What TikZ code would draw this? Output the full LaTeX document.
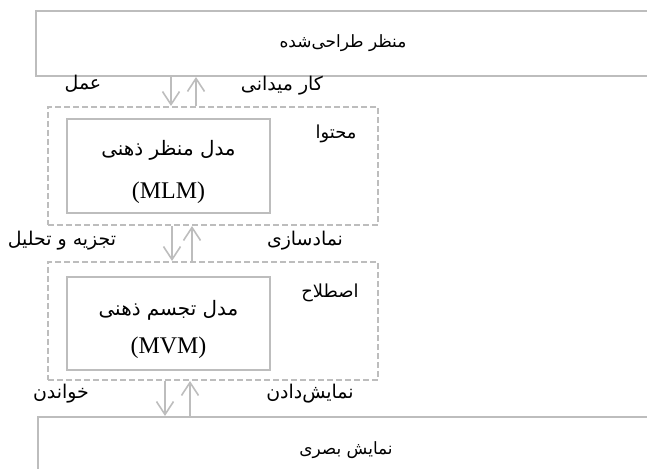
\documentclass[tikz,border=0pt]{standalone}
\usepackage{fontspec}
\setmainfont{Liberation Serif}
\newfontfamily\fa[Script=Arabic]{DejaVu Sans}
\TeXXeTstate=1
\usetikzlibrary{arrows.meta}
\definecolor{edge}{HTML}{BDBDBD}
\tikzset{
  solidbox/.style={draw=edge, line width=2bp, inner sep=0pt, minimum width=#1},
  groupbox/.style={draw=edge, line width=2bp, dash pattern=on 6bp off 3bp, inner sep=0pt},
  flow/.style={draw=edge, line width=1.6bp, -{Straight Barb[length=13bp,width=17bp,line width=1.6bp]}},
  lbl/.style={inner sep=0pt, font=\fa\fontsize{19}{22}\selectfont},
  frametxt/.style={inner sep=0pt, font=\fa\fontsize{17}{20}\selectfont},
  grouptxt/.style={inner sep=0pt, font=\fa\fontsize{18}{21}\selectfont},
  big/.style={inner sep=0pt, font=\fa\fontsize{20}{24}\selectfont},
  latin/.style={inner sep=0pt, font=\fontsize{24}{28}\selectfont},
}
\begin{document}
\begin{tikzpicture}[x=1bp, y=-1bp]
\useasboundingbox (0,0) rectangle (647,469);

% outer frames
\node[solidbox=614bp, minimum height=65bp] (design) at (343,43.5) {};
\node[solidbox=612bp, minimum height=66bp] (visual) at (344,450) {};

% dashed groups
\node[groupbox, minimum width=330bp, minimum height=118bp] (content) at (213,166) {};
\node[groupbox, minimum width=330bp, minimum height=118bp] (term) at (213,321) {};

% model boxes
\node[solidbox=203bp, minimum height=94bp] (mlm) at (168.5,166) {};
\node[solidbox=203bp, minimum height=93bp] (mvm) at (168.5,323.5) {};

% texts inside frames
\node[frametxt] (designtxt) at (343,43) {\beginR منظر طراحی‌شده\endR};
\node[frametxt] (visualtxt) at (346,450) {\beginR نمایش بصری\endR};
\node[grouptxt] (contenttxt) at (336,134) {\beginR محتوا\endR};
\node[grouptxt] (termtxt) at (330,293) {\beginR اصطلاح\endR};
\node[big] (mlmfa) at (168.5,150) {\beginR مدل منظر ذهنی\endR};
\node[latin] (mlmen) at (168.5,193) {(MLM)};
\node[big] (mvmfa) at (168.5,310) {\beginR مدل تجسم ذهنی\endR};
\node[latin] (mvmen) at (168.5,348) {(MVM)};

% arrow columns
\coordinate (d1) at (171,0);
\coordinate (u1) at (196,0);
\coordinate (d2) at (172,0);
\coordinate (u2) at (192,0);
\coordinate (d3) at (165,0);
\coordinate (u3) at (190,0);

\draw[flow] (design.south -| d1) -- (content.north -| d1);
\draw[flow] (content.north -| u1) -- (design.south -| u1);
\draw[flow] (content.south -| d2) -- (term.north -| d2);
\draw[flow] (term.north -| u2) -- (content.south -| u2);
\draw[flow] (term.south -| d3) -- (visual.north -| d3);
\draw[flow] (visual.north -| u3) -- (term.south -| u3);

% arrow labels
\node[lbl] (act) at (83,84) {\beginR عمل\endR};
\node[lbl] (field) at (282,86) {\beginR کار میدانی\endR};
\node[lbl] (analysis) at (62,241) {\beginR تجزیه و تحلیل\endR};
\node[lbl] (symbol) at (305,241) {\beginR نمادسازی\endR};
\node[lbl] (read) at (61,394) {\beginR خواندن\endR};
\node[lbl] (show) at (310,394) {\beginR نمایش‌دادن\endR};
\end{tikzpicture}
\end{document}
